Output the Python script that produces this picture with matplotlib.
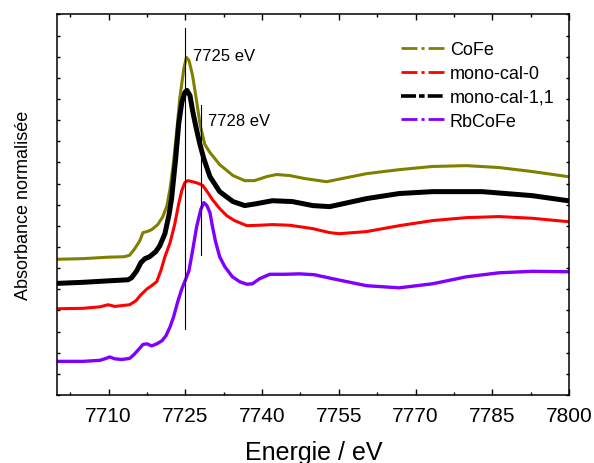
import matplotlib
matplotlib.use("Agg")
import matplotlib.pyplot as plt
from matplotlib.lines import Line2D
from matplotlib.ticker import MultipleLocator, NullFormatter

plt.rcParams['font.family'] = ['Liberation Sans', 'DejaVu Sans']
plt.rcParams['lines.scale_dashes'] = False

# Fe K-edge XANES spectra (normalised absorbance, vertically offset)
cofe_E = [7700.0, 7705.0, 7710.0, 7713.0, 7714.1, 7715.1, 7716.1, 7716.7, 7717.5, 7718.4,
          7719.6, 7720.6, 7721.4, 7722.0, 7722.6, 7723.3, 7723.9, 7724.7, 7725.2, 7725.7,
          7726.4, 7727.2, 7727.9, 7728.8, 7729.8, 7731.7, 7734.3, 7736.6, 7738.5, 7740.9,
          7742.8, 7745.4, 7748.3, 7752.6, 7760.4, 7766.8, 7773.3, 7779.9, 7786.3, 7792.8, 7799.8]
cofe_mu = [6.42, 6.45, 6.52, 6.54, 6.61, 6.92, 7.30, 7.68, 7.73, 7.82,
           8.06, 8.44, 8.96, 9.76, 10.85, 12.46, 14.03, 15.45, 15.97, 15.83,
           15.12, 13.89, 12.75, 11.85, 11.47, 10.90, 10.38, 10.14, 10.14, 10.33,
           10.43, 10.38, 10.24, 10.09, 10.47, 10.66, 10.81, 10.85, 10.76, 10.57, 10.33]

mono0_E = [7700.0, 7705.0, 7708.3, 7709.9, 7711.2, 7714.1, 7715.3, 7716.3, 7717.5, 7718.4,
           7719.4, 7720.2, 7721.0, 7722.0, 7722.9, 7723.7, 7724.3, 7724.9, 7725.5, 7726.4,
           7727.4, 7728.4, 7729.4, 7730.3, 7731.7, 7733.1, 7734.6, 7737.0, 7739.5, 7742.0,
           7745.4, 7749.9, 7753.2, 7755.1, 7760.4, 7766.8, 7773.3, 7779.9, 7786.3, 7792.8, 7799.8]
mono0_mu = [4.08, 4.10, 4.17, 4.27, 4.19, 4.27, 4.45, 4.74, 5.02, 5.17,
            5.36, 5.88, 6.54, 7.20, 8.06, 9.05, 9.67, 10.05, 10.14, 10.09,
            10.02, 9.91, 9.57, 9.24, 8.82, 8.48, 8.25, 8.01, 8.03, 8.06,
            8.03, 7.87, 7.68, 7.63, 7.73, 8.01, 8.25, 8.39, 8.44, 8.36, 8.20]

mono11_E = [7700.0, 7705.0, 7710.0, 7713.8, 7714.5, 7715.5, 7716.3, 7717.1, 7718.0, 7719.2,
            7720.0, 7721.0, 7721.8, 7722.3, 7723.1, 7723.7, 7724.3, 7724.9, 7725.3, 7725.9,
            7726.4, 7727.0, 7727.8, 7728.6, 7729.8, 7731.7, 7734.3, 7736.6, 7738.9, 7742.0,
            7745.9, 7749.9, 7753.2, 7760.4, 7766.8, 7773.3, 7783.0, 7792.8, 7799.8]
mono11_mu = [5.28, 5.33, 5.40, 5.45, 5.55, 5.88, 6.26, 6.45, 6.54, 6.78,
             7.06, 7.63, 8.53, 9.29, 11.18, 12.84, 13.84, 14.31, 14.41, 14.17,
             13.46, 12.75, 11.90, 11.18, 10.33, 9.62, 9.15, 8.96, 9.05, 9.19,
             9.15, 8.96, 8.91, 9.29, 9.53, 9.62, 9.62, 9.43, 9.19]

rbcofe_E = [7700.0, 7705.0, 7708.3, 7709.5, 7710.2, 7711.2, 7712.6, 7714.1, 7714.9, 7715.7,
            7716.7, 7717.5, 7718.4, 7719.4, 7720.4, 7721.2, 7722.0, 7722.7, 7723.5, 7724.3,
            7725.1, 7725.7, 7726.4, 7727.2, 7728.0, 7728.6, 7729.2, 7729.8, 7730.3, 7730.9,
            7731.7, 7732.7, 7734.2, 7735.6, 7737.0, 7738.1, 7739.5, 7741.5, 7744.4, 7747.3,
            7750.2, 7753.8, 7760.4, 7766.8, 7773.3, 7779.9, 7786.3, 7792.8, 7799.8]
rbcofe_mu = [1.59, 1.59, 1.64, 1.73, 1.80, 1.71, 1.68, 1.73, 1.90, 2.11,
             2.39, 2.42, 2.32, 2.42, 2.56, 2.80, 3.22, 3.70, 4.41, 5.02,
             5.50, 5.88, 6.82, 7.96, 8.77, 9.10, 8.96, 8.63, 7.96, 7.25,
             6.54, 6.07, 5.59, 5.36, 5.24, 5.26, 5.50, 5.71, 5.71, 5.73,
             5.69, 5.50, 5.17, 5.07, 5.26, 5.59, 5.78, 5.85, 5.83]

series_names = ['CoFe', 'mono-cal-0', 'mono-cal-1,1', 'RbCoFe']
series_colors = ['#808000', '#ff0000', '#000000', '#8000ff']

# Energies of the marked features and the vertical extent of their guide lines
feature_E = [7725, 7728]
feature_span = [(3.13, 17.35), (6.60, 13.70)]
feature_label_y = [16.07, 12.99]

fig = plt.figure(figsize=(5.94, 4.64), dpi=100)
ax = fig.add_axes([0.0968, 0.1466, 0.8612, 0.82])

ax.plot(cofe_E, cofe_mu, color=series_colors[0], lw=2.2, solid_joinstyle='round')
ax.plot(mono0_E, mono0_mu, color=series_colors[1], lw=2.2, solid_joinstyle='round')
ax.plot(mono11_E, mono11_mu, color=series_colors[2], lw=3.6, solid_joinstyle='round')
ax.plot(rbcofe_E, rbcofe_mu, color=series_colors[3], lw=2.4, solid_joinstyle='round')

for e, (y0, y1), ly in zip(feature_E, feature_span, feature_label_y):
    ax.plot([e, e], [y0, y1], color='black', lw=0.8)
    ax.text(e + 1.45, ly, f'{e} eV', fontsize=12, va='center', ha='left')

ax.set_xlim(7700, 7800)
ax.set_ylim(0, 18)
ax.set_xticks([7710, 7725, 7740, 7755, 7770, 7785, 7800])
ax.set_xticks([7702.5, 7717.5, 7732.5, 7747.5, 7762.5, 7777.5, 7792.5], minor=True)
ax.yaxis.set_major_locator(MultipleLocator(1))
ax.yaxis.set_major_formatter(NullFormatter())

ax.tick_params(axis='both', which='both', direction='in', top=True, right=True, width=1.0)
ax.tick_params(axis='x', which='major', length=4.5, labelsize=15, pad=8)
ax.tick_params(axis='x', which='minor', length=2.5)
ax.tick_params(axis='y', which='major', length=2.5)
for s in ax.spines.values():
    s.set_linewidth(1.1)

ax.set_xlabel('Energie / eV', fontsize=18, labelpad=11)
ax.set_ylabel('Absorbance normalisée', fontsize=13, labelpad=15)

# Legend handles: line - symbol - line
handles = []
for name, c in zip(series_names, series_colors):
    if c == '#000000':
        h = Line2D([], [], color=c, lw=2.6, dashes=(10.8, 2.2, 4.0, 2.2))
    else:
        h = Line2D([], [], color=c, lw=2.0, dashes=(11.5, 2.9, 2.2, 2.9))
    handles.append(h)
ax.legend(handles, series_names, loc='upper left', bbox_to_anchor=(0.672, 0.93),
          frameon=False, fontsize=13, handlelength=2.38, handletextpad=0.3,
          labelspacing=0.38, borderpad=0, borderaxespad=0)

fig.savefig('out.png', dpi=100)
